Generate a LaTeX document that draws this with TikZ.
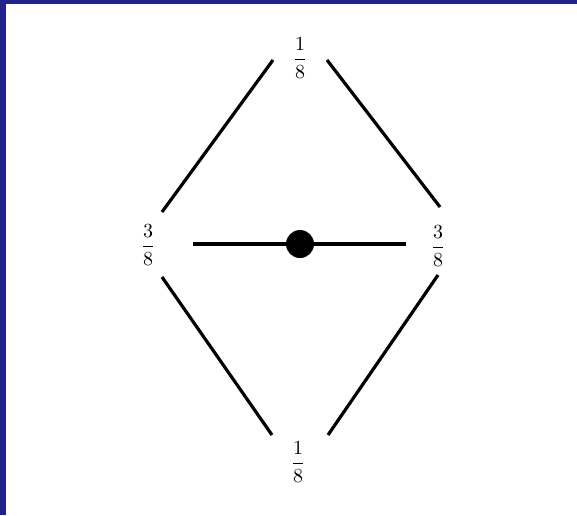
\documentclass[tikz,border=0pt]{standalone}
\usepackage{amsmath}
\usepackage{tikz}
\usetikzlibrary{calc}
\definecolor{slideblue}{RGB}{34,34,140}
\tikzset{
  weight/.style={inner sep=0pt,font=\normalsize},
  link/.style={draw=black,line width=1.6pt},
  vertex/.style={circle,fill=black,minimum size=14pt,inner sep=0pt},
}

\begin{document}
\begin{tikzpicture}[x=0.5pt,y=-0.5pt]
  % frame of the slide
  \fill[slideblue] (0,0) rectangle (577,515);
  \fill[white] (6,4) rectangle (577,515);
  \useasboundingbox (0,0) rectangle (577,515);

  \node[weight] (t) at (300,58) {$\dfrac{1}{8}$};
  \node[weight] (l) at (148,245) {$\dfrac{3}{8}$};
  \node[weight] (r) at (438,246) {$\dfrac{3}{8}$};
  \node[weight] (b) at (298,462) {$\dfrac{1}{8}$};
  \node[vertex] (c) at (300,244) {};

  \draw[link] ($(l)+(14,-33)$) -- ($(t)+(-27,2)$);
  \draw[link] ($(t)+(27,2)$) -- ($(r)+(2,-39)$);
  \draw[link] ($(l)+(14,32)$) -- ($(b)+(-26,-27)$);
  \draw[link] ($(r)+(0,29)$) -- ($(b)+(30,-27)$);
  \draw[link] ($(l)+(45,-1)$) -- (c) -- ($(r)+(-32,-2)$);
\end{tikzpicture}
\end{document}
